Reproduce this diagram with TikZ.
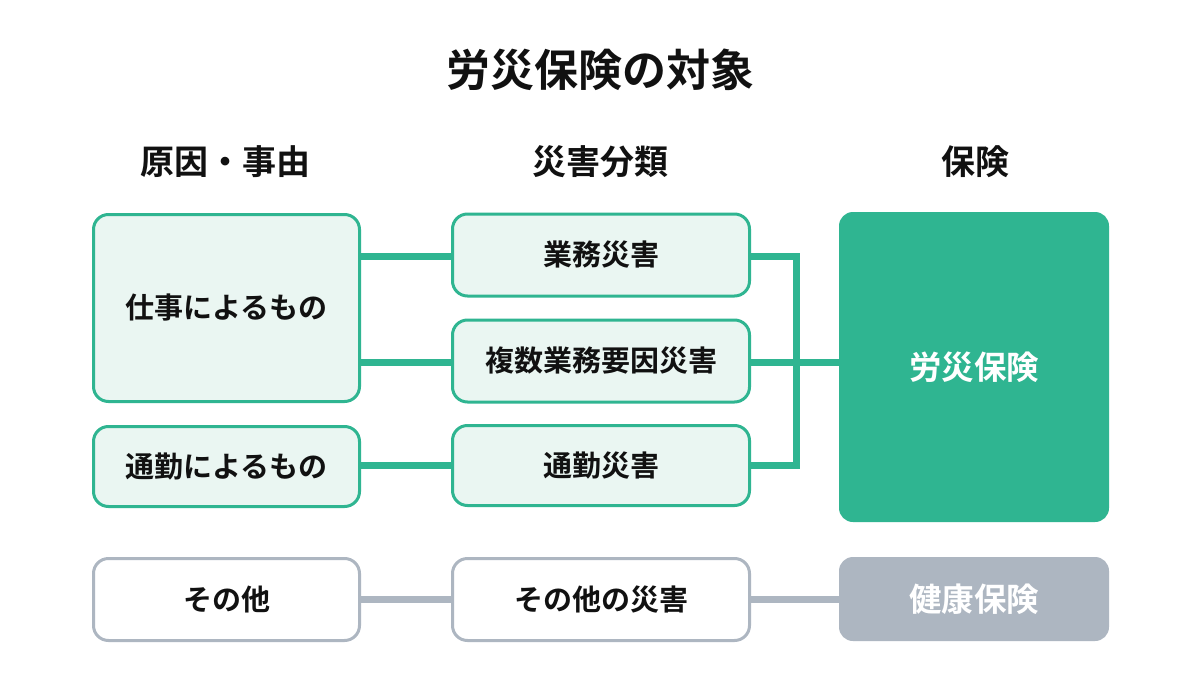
\documentclass[tikz,border=0pt]{standalone}
\usepackage{fontspec}
\newfontfamily\jp{Noto Sans CJK JP Bold}
\definecolor{grn}{HTML}{2FB591}
\definecolor{lgrn}{HTML}{EAF6F2}
\definecolor{gry}{HTML}{ADB6C1}
\definecolor{txt}{HTML}{111111}
\begin{document}
\begin{tikzpicture}[x=1pt,y=-1pt,
  every node/.style={outer sep=0pt},
  gbox/.style={draw=grn,line width=3pt,fill=lgrn,rounded corners=15pt,inner sep=0pt,anchor=north west,font=\jp\fontsize{29}{34}\selectfont,text=txt},
  wbox/.style={draw=gry,line width=3pt,fill=white,rounded corners=15pt,inner sep=0pt,anchor=north west,font=\jp\fontsize{29}{34}\selectfont,text=txt},
  fbox/.style={rounded corners=14pt,inner sep=0pt,anchor=north west,font=\jp\fontsize{32.5}{38}\selectfont,text=white},
  hdr/.style={font=\jp\fontsize{34}{40}\selectfont,text=txt},
  gline/.style={draw=grn,line width=7pt},
  yline/.style={draw=gry,line width=7pt}]
\useasboundingbox (0,0) rectangle (1200,696);
\fill[white] (0,0) rectangle (1200,696);
\node[font=\jp\fontsize{44}{50}\selectfont,text=txt] (title) at (600,70) {労災保険の対象};
\node[hdr] (h1) at (225,162) {原因・事由};
\node[hdr] (h2) at (600,162) {災害分類};
\node[hdr] (h3) at (975,162) {保険};
% boxes
\node[gbox,minimum width=266pt,minimum height=187pt] (shigoto) at (93.5,214.5) {仕事によるもの};
\node[gbox,minimum width=266pt,minimum height=80pt] (tsukin) at (93.5,426.5) {通勤によるもの};
\node[gbox,minimum width=297pt,minimum height=82pt] (gyomu) at (452.5,214) {業務災害};
\node[gbox,minimum width=297pt,minimum height=82pt] (fukusu) at (452.5,320) {複数業務要因災害};
\node[gbox,minimum width=297pt,minimum height=80pt] (tsukins) at (452.5,425.5) {通勤災害};
\node[fbox,fill=grn,minimum width=270pt,minimum height=310pt] (rousai) at (839,212) {労災保険};
\node[wbox,minimum width=266pt,minimum height=82pt] (sonota) at (93.5,558.5) {その他};
\node[wbox,minimum width=297pt,minimum height=82pt] (sonotas) at (452.5,558.5) {その他の災害};
\node[fbox,fill=gry,minimum width=270pt,minimum height=84pt] (kenko) at (839,557) {健康保険};
% junction coordinates
\coordinate (y1) at (0,256);
\coordinate (y2) at (0,362);
\coordinate (y3) at (0,465);
\coordinate (y4) at (0,599);
\coordinate (j1) at (796,256);
\coordinate (j2) at (796,465);
% connectors
\begin{scope}[on background layer/.try]
\end{scope}
\draw[gline] ([xshift=1.5pt]shigoto.east |- y1) -- ([xshift=-1.5pt]gyomu.west |- y1);
\draw[gline] ([xshift=1.5pt]shigoto.east |- y2) -- ([xshift=-1.5pt]fukusu.west |- y2);
\draw[gline] ([xshift=1.5pt]tsukin.east |- y3) -- ([xshift=-1.5pt]tsukins.west |- y3);
\draw[gline] ([xshift=1.5pt]gyomu.east |- y1) -- (j1) -- (j2) -- ([xshift=1.5pt]tsukins.east |- y3);
\draw[gline] ([xshift=1.5pt]fukusu.east |- y2) -- (rousai.west |- y2);
\draw[yline] ([xshift=1.5pt]sonota.east |- y4) -- ([xshift=-1.5pt]sonotas.west |- y4);
\draw[yline] ([xshift=1.5pt]sonotas.east |- y4) -- (kenko.west |- y4);
\end{tikzpicture}
\end{document}
